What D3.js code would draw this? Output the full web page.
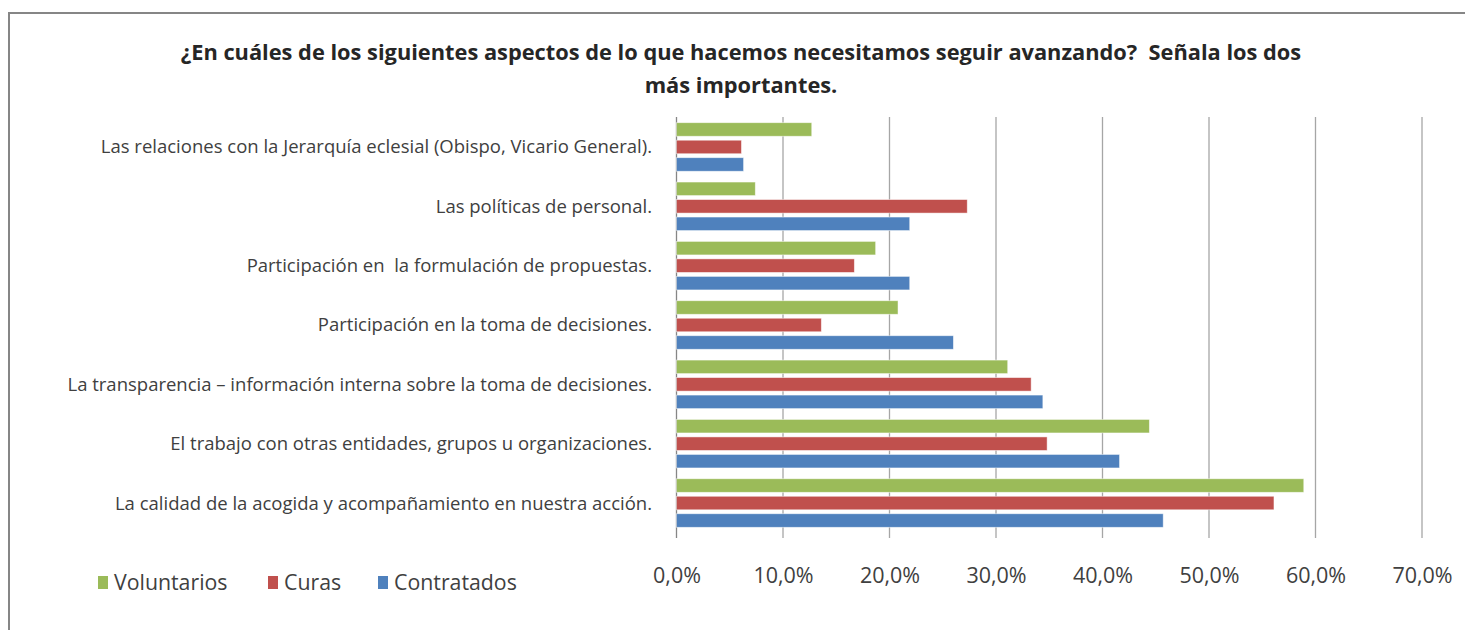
<!DOCTYPE html>
<html>
<head>
<meta charset="utf-8">
<script src="https://cdn.jsdelivr.net/npm/d3@7"></script>
<style>
  body { margin: 0; background: #fff; }
  svg { font-family: "Open Sans", sans-serif; }
  svg text { white-space: pre; }
</style>
</head>
<body>
<div id="chart"></div>
<script>
// categories top to bottom
var categories = [
    "Las relaciones con la Jerarquía eclesial (Obispo, Vicario General).",
    "Las políticas de personal.",
    "Participación en  la formulación de propuestas.",
    "Participación en la toma de decisiones.",
    "La transparencia – información interna sobre la toma de decisiones.",
    "El trabajo con otras entidades, grupos u organizaciones.",
    "La calidad de la acogida y acompañamiento en nuestra acción."
];
var series = ["Voluntarios", "Curas", "Contratados"];
var voluntarios = [12.7, 7.4, 18.7, 20.8, 31.1, 44.4, 58.9];
var curas = [6.1, 27.3, 16.7, 13.6, 33.3, 34.8, 56.1];
var contratados = [6.3, 21.9, 21.9, 26.0, 34.4, 41.6, 45.7];
var xTicks = [0, 10, 20, 30, 40, 50, 60, 70];
var titleLines = [
    "¿En cuáles de los siguientes aspectos de lo que hacemos necesitamos seguir avanzando?  Señala los dos",
    "más importantes."
];

var colors = { "Voluntarios": "#9BBB59", "Curas": "#C0504D", "Contratados": "#4F81BD" };
var values = { "Voluntarios": voluntarios, "Curas": curas, "Contratados": contratados };

var W = 1465, H = 630;
var svg = d3.select("#chart").append("svg")
    .attr("width", W)
    .attr("height", H);

// outer frame (top and left edges visible)
svg.append("path")
    .attr("d", "M9,630 L9,13 L1465,13")
    .attr("fill", "none")
    .attr("stroke", "#868686")
    .attr("stroke-width", 2);

// title
svg.append("text")
    .attr("text-anchor", "middle")
    .attr("font-size", 21.8)
    .attr("font-weight", "bold")
    .attr("fill", "#262626")
    .selectAll("tspan")
    .data(titleLines)
    .enter().append("tspan")
    .attr("x", 741)
    .attr("y", function(d, i) { return 60 + i * 33; })
    .text(function(d) { return d; });

var x = d3.scaleLinear()
    .domain([0, 70])
    .range([676.5, 1422]);

var y = d3.scaleBand()
    .domain(categories)
    .range([117.3, 532.7]);

var ySub = d3.scaleBand()
    .domain(series)
    .range([5.4, y.bandwidth() - 5.4])
    .paddingInner(0.226);

// gridlines
svg.append("g")
    .selectAll("line")
    .data(xTicks)
    .enter().append("line")
    .attr("x1", function(d) { return x(d); })
    .attr("x2", function(d) { return x(d); })
    .attr("y1", 117)
    .attr("y2", 538)
    .attr("stroke", function(d) { return d === 0 ? "#868686" : "#a6a6a6"; })
    .attr("stroke-width", 1.3);

// bars
var group = svg.append("g")
    .selectAll("g")
    .data(categories)
    .enter().append("g")
    .attr("transform", function(d) { return "translate(0," + y(d) + ")"; });

group.selectAll("rect")
    .data(function(d, i) {
        return series.map(function(s) { return { s: s, v: values[s][i] }; });
    })
    .enter().append("rect")
    .attr("x", x(0))
    .attr("y", function(d) { return ySub(d.s); })
    .attr("width", function(d) { return x(d.v) - x(0); })
    .attr("height", ySub.bandwidth())
    .attr("fill", function(d) { return colors[d.s]; })
    .attr("stroke", "#fff")
    .attr("stroke-opacity", 0.6)
    .attr("stroke-width", 0.8);

// category labels
svg.append("g")
    .selectAll("text")
    .data(categories)
    .enter().append("text")
    .attr("x", 652)
    .attr("y", function(d) { return y(d) + y.bandwidth() / 2; })
    .attr("dy", "0.35em")
    .attr("text-anchor", "end")
    .attr("font-size", 18.5)
    .attr("fill", "#404040")
    .text(function(d) { return d; });

// x axis labels
var fmt = function(d) { return d3.format(".1f")(d).replace(".", ",") + "%"; };
var axis = svg.append("g")
    .attr("transform", "translate(0,565)")
    .call(d3.axisBottom(x).tickValues(xTicks).tickSize(0).tickFormat(fmt));
axis.select(".domain").remove();
axis.selectAll("text")
    .attr("font-family", "'Open Sans', sans-serif")
    .attr("font-size", 21.5)
    .attr("fill", "#404040");

// legend
var legendX = [98, 268, 378];
var legend = svg.append("g")
    .selectAll("g")
    .data(series)
    .enter().append("g")
    .attr("transform", function(d, i) { return "translate(" + legendX[i] + ",583)"; });
legend.append("rect")
    .attr("x", 0)
    .attr("y", -7)
    .attr("width", 10)
    .attr("height", 13)
    .attr("fill", function(d) { return colors[d]; });
legend.append("text")
    .attr("x", 16)
    .attr("dy", "0.35em")
    .attr("font-size", 21.3)
    .attr("fill", "#404040")
    .text(function(d) { return d; });
</script>
</body>
</html>
